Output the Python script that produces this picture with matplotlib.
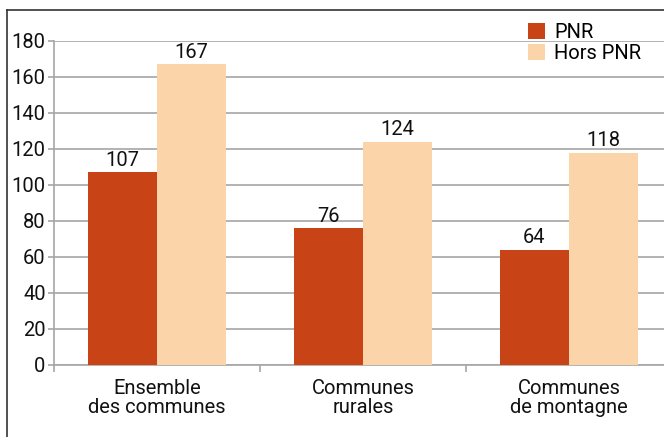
import matplotlib
matplotlib.use("Agg")
import matplotlib.pyplot as plt
from matplotlib.lines import Line2D
import numpy as np

categories = ["Ensemble\ndes communes", "Communes\nrurales", "Communes\nde montagne"]
pnr = [107, 76, 64]
hors_pnr = [167, 124, 118]
yticks = [0, 20, 40, 60, 80, 100, 120, 140, 160, 180]

c_pnr = "#C84416"
c_hors = "#FBD5A9"
grid_c = "#A6A6A6"

plt.rcParams['font.family'] = ['Roboto', 'DejaVu Sans']
FS = 14.5

fig = plt.figure(figsize=(6.64, 4.37), dpi=100)
ax = fig.add_axes([54/664, 1-365/437, 618/664, 324/437])

x = np.arange(len(categories)) + 0.5
w = 0.335
b1 = ax.bar(x - w/2, pnr, w, color=c_pnr, label="PNR", zorder=3)
b2 = ax.bar(x + w/2, hors_pnr, w, color=c_hors, label="Hors PNR", zorder=3)

for bars, vals in ((b1, pnr), (b2, hors_pnr)):
    for r, v in zip(bars, vals):
        ax.text(r.get_x() + r.get_width()/2, v + 1.3, str(v), ha="center", va="bottom",
                fontsize=FS, color="#111111")

ax.set_xlim(0, 3)
ax.set_ylim(0, 180)
ax.set_yticks(yticks)
ax.set_yticklabels([str(t) for t in yticks], fontsize=FS, color="#111111")
ax.yaxis.grid(True, color=grid_c, lw=1.2, zorder=0)
ax.set_axisbelow(True)

ax.set_xticks([0, 1, 2, 3])
ax.set_xticklabels([])
ax.set_xticks(x, minor=True)
ax.set_xticklabels(categories, minor=True, fontsize=FS, color="#111111", linespacing=1.0)
ax.tick_params(axis="x", which="minor", length=0, pad=10)
ax.tick_params(axis="x", which="major", length=5, color=grid_c, width=1.2)
ax.tick_params(axis="y", length=4, color=grid_c, width=1.2, pad=2)

for s in ("top", "right"):
    ax.spines[s].set_visible(False)
for s in ("left", "bottom"):
    ax.spines[s].set_color(grid_c)
    ax.spines[s].set_linewidth(1.2)

leg = ax.legend(loc="upper left", bbox_to_anchor=((528-54)/618, 1 + (41-23)/324), frameon=False,
                fontsize=FS, handlelength=0.85, handleheight=0.85, handletextpad=0.45,
                labelspacing=0.1, borderaxespad=0, borderpad=0)

fig.add_artist(Line2D([7/664, 1], [1-10/437, 1-10/437], color="#333333", lw=1.2))
fig.add_artist(Line2D([7/664, 7/664], [0, 1-10/437], color="#333333", lw=1.2))

fig.savefig("out.png", dpi=100)
